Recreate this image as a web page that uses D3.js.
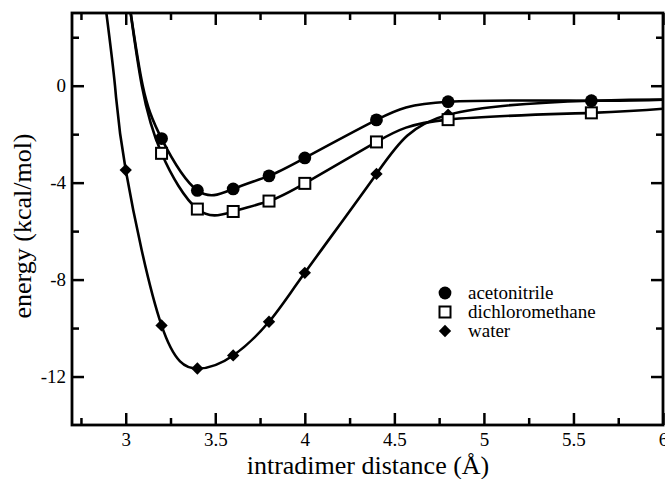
<!DOCTYPE html>
<html>
<head>
<meta charset="utf-8">
<script src="https://cdn.jsdelivr.net/npm/d3@7"></script>
<style>
  body { margin: 0; background: #fff; }
  svg text { font-family: "Liberation Serif", "Times New Roman", "DejaVu Serif", serif; fill: #000; }
</style>
</head>
<body>
<svg width="665" height="479"></svg>
<script>
const width = 665;
const height = 479;
const serif = '"Liberation Serif", "Times New Roman", "DejaVu Serif", serif';

// marker data
var distance = [3.2, 3.4, 3.6, 3.8, 4.0, 4.4, 4.8, 5.6];
var acetonitrile = [-2.18, -4.32, -4.26, -3.72, -2.98, -1.41, -0.66, -0.62];
var dichloromethane = [-2.79, -5.09, -5.19, -4.76, -4.03, -2.32, -1.40, -1.12];
var waterDistance = [3.0, 3.2, 3.4, 3.6, 3.8, 4.0, 4.4, 4.8, 5.6];
var water = [-3.48, -9.89, -11.67, -11.13, -9.74, -7.72, -3.64, -1.2, -0.62];

// where the fitted curves leave the frame
var acetonitrileTail = [[3.02, 3.4], [3.095, 0], [6.0, -0.58]];
var dichloromethaneTail = [[3.02, 3.4], [3.09, 0], [6.0, -0.95]];
var waterTail = [[2.885, 3.4], [2.94, 0], [6.0, -0.57]];

var xTicks = [3, 3.5, 4, 4.5, 5, 5.5, 6];
var xMinor = [2.75, 3.25, 3.75, 4.25, 4.75, 5.25, 5.75];
var yTicks = [0, -4, -8, -12];
var yMinor = [2, -2, -6, -10];

var legendNames = ["acetonitrile", "dichloromethane", "water"];

var margin = {left: 72, right: 2, top: 13, bottom: 54};

var x = d3.scaleLinear().domain([2.7, 6]).range([margin.left, width - margin.right]);
var y = d3.scaleLinear().domain([-14, 3]).range([height - margin.bottom, margin.top]);

var svg = d3.select("svg");

svg.append("clipPath").attr("id", "clip")
    .append("rect")
    .attr("x", x(2.7)).attr("y", y(3))
    .attr("width", x(6) - x(2.7)).attr("height", y(-14) - y(3));

function curvePoints(xs, ys, tail) {
    var pts = xs.map(function (d, i) { return [d, ys[i]]; });
    pts = pts.concat(tail);
    pts.sort(function (a, b) { return a[0] - b[0]; });
    return pts;
}

var line = d3.line()
    .x(function (d) { return x(d[0]); })
    .y(function (d) { return y(d[1]); })
    .curve(d3.curveNatural);

var curves = [
    curvePoints(distance, acetonitrile, acetonitrileTail),
    curvePoints(distance, dichloromethane, dichloromethaneTail),
    curvePoints(waterDistance, water, waterTail)
];

var lines = svg.append("g").attr("clip-path", "url(#clip)");
curves.forEach(function (pts) {
    lines.append("path")
        .attr("d", line(pts))
        .attr("fill", "none")
        .attr("stroke", "#000")
        .attr("stroke-width", 2.6);
});

// axes: ticks point inward on all four sides
var tickW = 2.5;
function addAxis(axis, transform) {
    var g = svg.append("g").attr("transform", transform).call(axis);
    g.attr("font-family", null).attr("font-size", null);
    g.select(".domain").remove();
    g.selectAll("line").attr("stroke-width", tickW);
    g.selectAll("text")
        .style("font-family", serif)
        .style("font-size", "19px");
    return g;
}

addAxis(d3.axisBottom(x).tickValues(xTicks).tickSizeInner(-12).tickSizeOuter(0)
    .tickPadding(8).tickFormat(d3.format("")), "translate(0," + y(-14) + ")");
addAxis(d3.axisBottom(x).tickValues(xMinor).tickSizeInner(-7).tickSizeOuter(0)
    .tickFormat(""), "translate(0," + y(-14) + ")");
addAxis(d3.axisTop(x).tickValues(xTicks).tickSizeInner(-12).tickSizeOuter(0)
    .tickFormat(""), "translate(0," + y(3) + ")");
addAxis(d3.axisTop(x).tickValues(xMinor).tickSizeInner(-7).tickSizeOuter(0)
    .tickFormat(""), "translate(0," + y(3) + ")");
addAxis(d3.axisLeft(y).tickValues(yTicks).tickSizeInner(-12).tickSizeOuter(0)
    .tickPadding(6).tickFormat(d3.format("")), "translate(" + x(2.7) + ",0)");
addAxis(d3.axisLeft(y).tickValues(yMinor).tickSizeInner(-7).tickSizeOuter(0)
    .tickFormat(""), "translate(" + x(2.7) + ",0)");
addAxis(d3.axisRight(y).tickValues(yTicks).tickSizeInner(-12).tickSizeOuter(0)
    .tickFormat(""), "translate(" + x(6) + ",0)");
addAxis(d3.axisRight(y).tickValues(yMinor).tickSizeInner(-7).tickSizeOuter(0)
    .tickFormat(""), "translate(" + x(6) + ",0)");

// the "-" in the figure is a plain hyphen
svg.selectAll(".tick text").text(function () { return this.textContent.replace("\u2212", "-"); });

// frame
svg.append("rect")
    .attr("x", x(2.7)).attr("y", y(3))
    .attr("width", x(6) - x(2.7)).attr("height", y(-14) - y(3))
    .attr("fill", "none").attr("stroke", "#000").attr("stroke-width", 2.8);

// markers
var diamond = d3.symbol().type(d3.symbolSquare).size(76);

function drawCircle(g, cx, cy) {
    g.append("circle").attr("cx", cx).attr("cy", cy).attr("r", 6.4).attr("fill", "#000");
}
function drawSquare(g, cx, cy) {
    g.append("rect").attr("x", cx - 5.5).attr("y", cy - 5.5).attr("width", 11).attr("height", 11)
        .attr("fill", "#fff").attr("stroke", "#000").attr("stroke-width", 2);
}
function drawDiamond(g, cx, cy) {
    g.append("path").attr("d", diamond())
        .attr("transform", "translate(" + cx + "," + cy + ") rotate(45)")
        .attr("fill", "#000");
}

var marks = svg.append("g");
waterDistance.forEach(function (d, i) { drawDiamond(marks, x(d), y(water[i])); });
distance.forEach(function (d, i) { drawSquare(marks, x(d), y(dichloromethane[i])); });
distance.forEach(function (d, i) { drawCircle(marks, x(d), y(acetonitrile[i])); });

// legend
var legend = svg.append("g").attr("transform", "translate(445,293)");
var drawers = [drawCircle, drawSquare, drawDiamond];
legendNames.forEach(function (name, i) {
    drawers[i](legend, 0, i * 19);
    legend.append("text")
        .attr("x", 23).attr("y", i * 19 + 6)
        .style("font-family", serif)
        .style("font-size", "19px")
        .text(name);
});

// axis titles
svg.append("text")
    .attr("x", 368).attr("y", 474)
    .attr("text-anchor", "middle")
    .style("font-family", serif)
    .style("font-size", "26px")
    .text("intradimer distance (\u00C5)");

svg.append("text")
    .attr("transform", "translate(31,226) rotate(-90)")
    .attr("text-anchor", "middle")
    .style("font-family", serif)
    .style("font-size", "26px")
    .text("energy (kcal/mol)");
</script>
</body>
</html>
